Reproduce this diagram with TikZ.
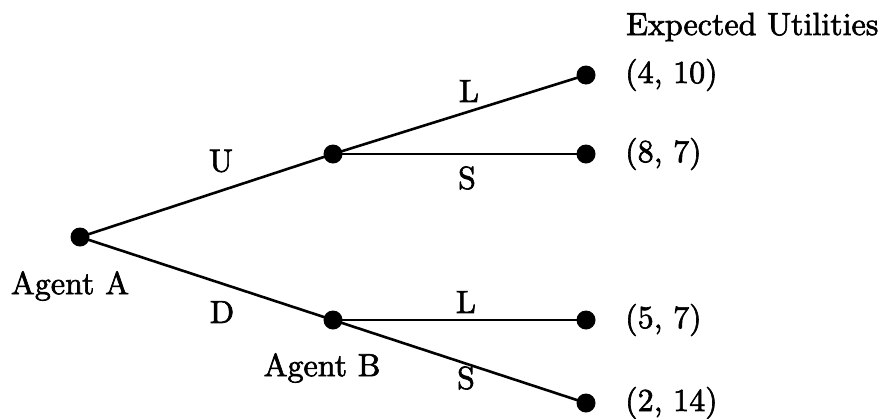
\documentclass[tikz,border=0pt]{standalone}
\usepackage{fontspec}
\newfontfamily\inkfont{lmroman10-regular.otf}[FakeBold=2]
\begin{document}
\begin{tikzpicture}[x=1pt,y=-1pt,
  every node/.style={font=\inkfont\fontsize{32}{38}\selectfont, inner sep=0pt},
  move/.style={fill=black, circle, minimum size=19pt, inner sep=0pt},
  branch/.style={line width=2.6pt}]
\useasboundingbox (0,0) rectangle (885,418);
% decision nodes
\node[move] (a)  at (80,237) {};
\node[move] (bu) at (333,154) {};
\node[move] (bd) at (333,320) {};
% terminal nodes
\node[move] (t1) at (586,75) {};
\node[move] (t2) at (586,154) {};
\node[move] (t3) at (586,320) {};
\node[move] (t4) at (586,403) {};
% branches
\draw[branch] (a.center) -- (bu.center);
\draw[branch] (a.center) -- (bd.center);
\draw[branch] (bu.center) -- (t1.center);
\draw[branch] (bu.center) -- (t2.center);
\draw[branch] (bd.center) -- (t3.center);
\draw[branch] (bd.center) -- (t4.center);
% action labels
\node (lu)  at (221,161) {U};
\node (ld)  at (222,312) {D};
\node (l1)  at (469,91) {L};
\node (l2)  at (467,178) {S};
\node (l3)  at (466,302) {L};
\node (l4)  at (466,378) {S};
% player labels
\node (pa) at (70,286) {Agent A};
\node (pb) at (322,368) {Agent B};
% payoffs
\node[anchor=west] (h)  at (626,27) {Expected Utilities};
\node[anchor=west] (p1) at (625,75) {(4, 10)};
\node[anchor=west] (p2) at (625,154) {(8, 7)};
\node[anchor=west] (p3) at (625,320) {(5, 7)};
\node[anchor=west] (p4) at (625,403) {(2, 14)};
\end{tikzpicture}
\end{document}
